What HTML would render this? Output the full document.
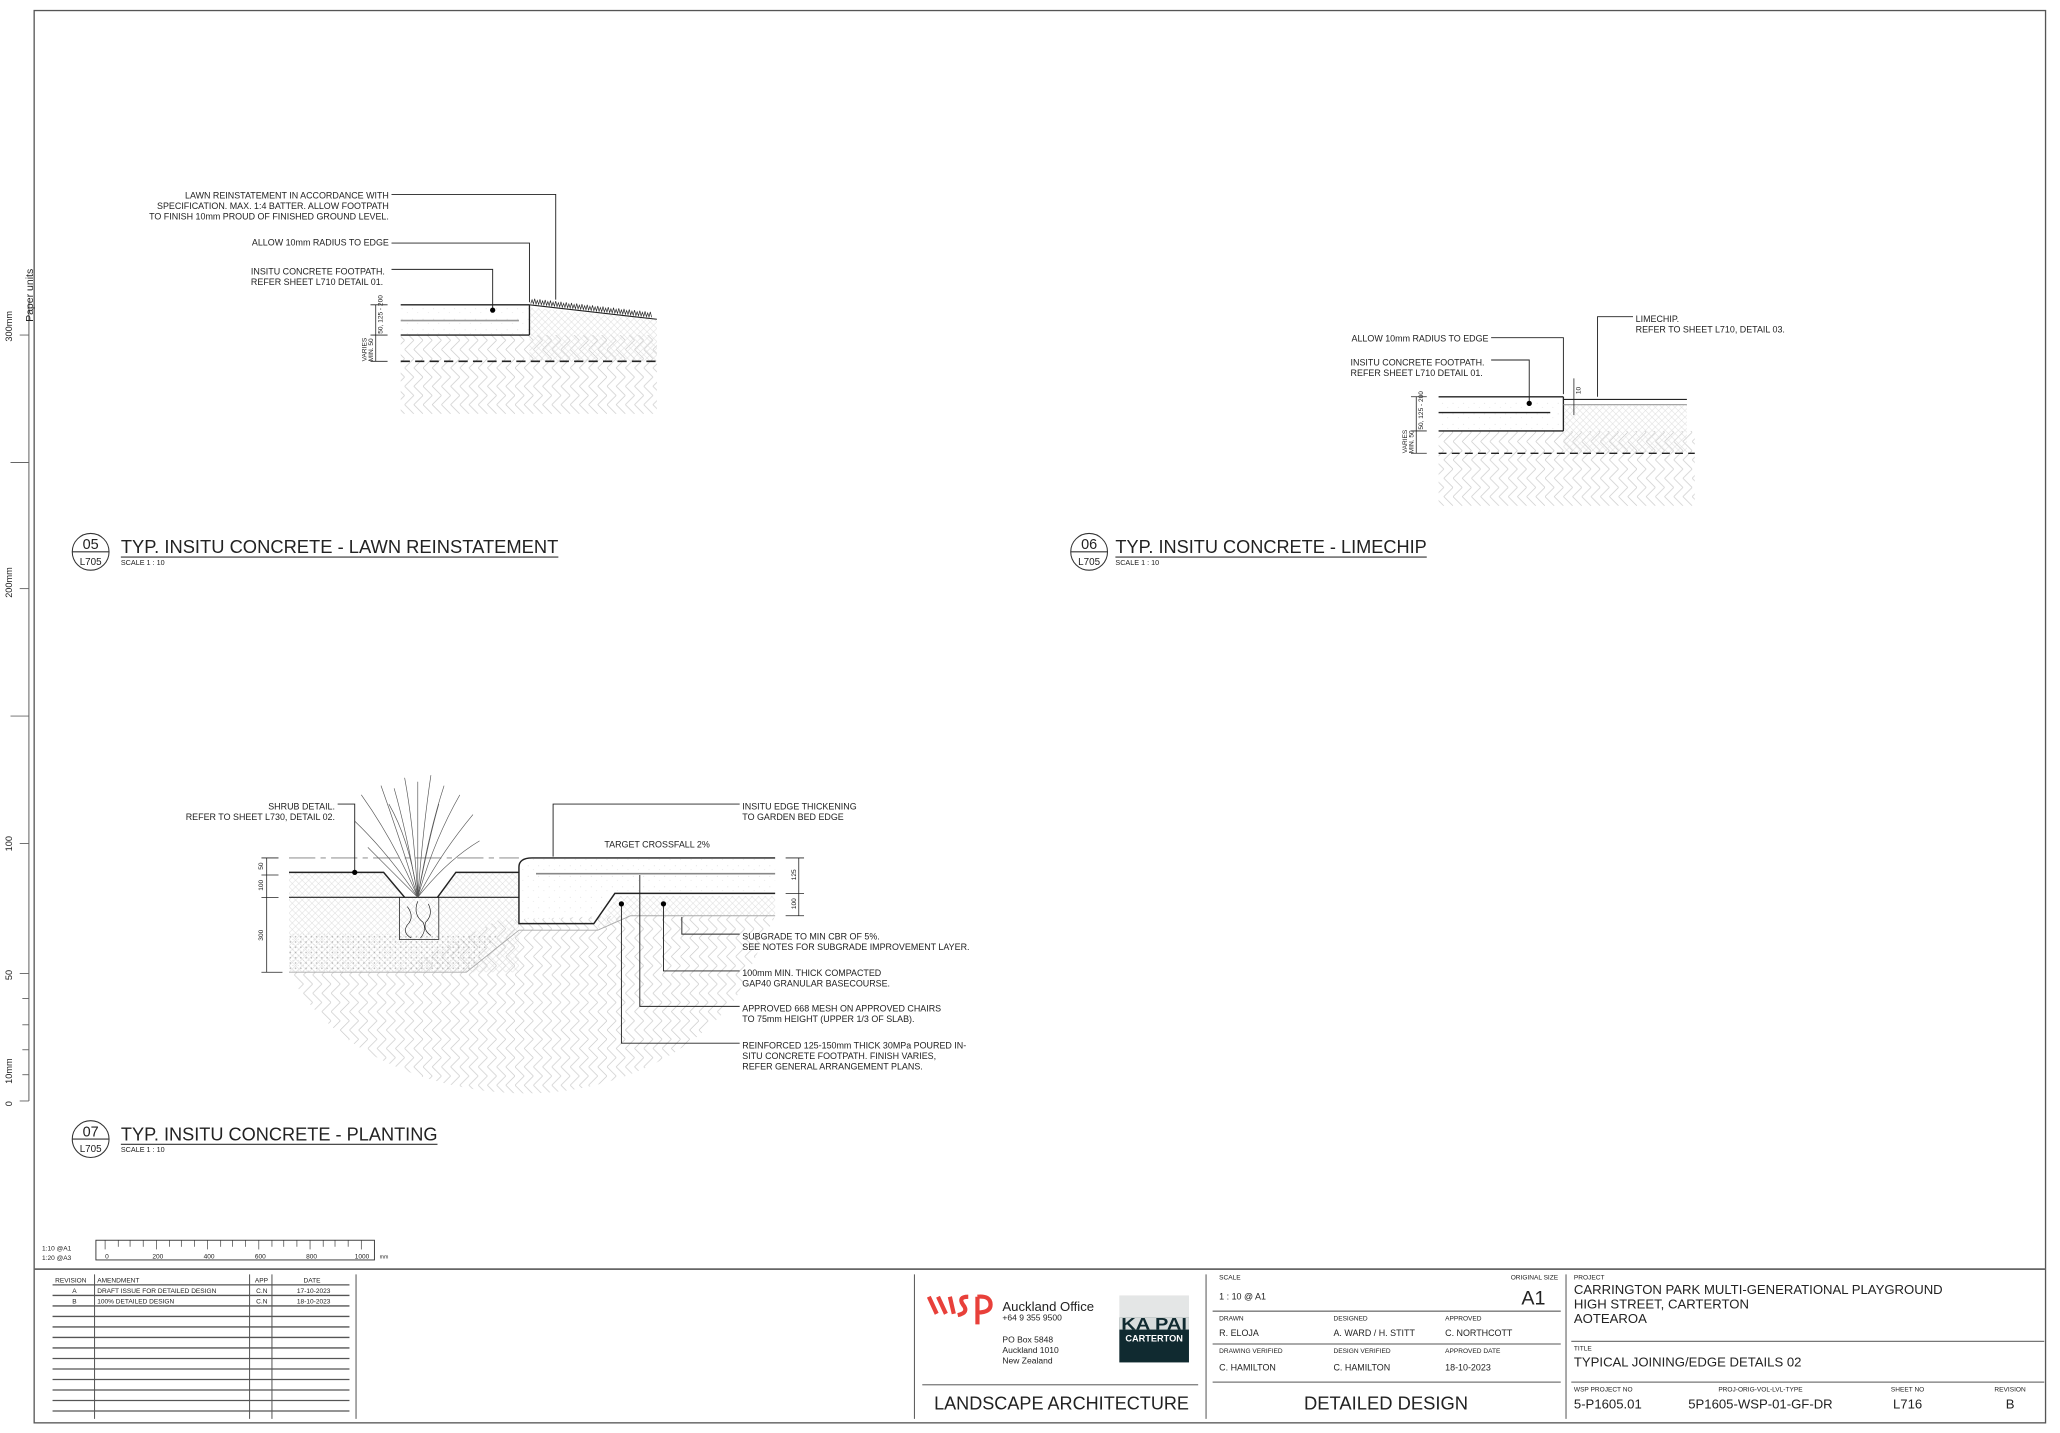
<!DOCTYPE html>
<html><head><meta charset="utf-8"><style>
html,body{margin:0;padding:0;background:#fff;}
svg{display:block;}
text{font-family:"Liberation Sans",Arial,sans-serif;fill:#222;}
</style></head><body>
<svg width="2060" height="1433" viewBox="0 0 1568 1090.7" xmlns="http://www.w3.org/2000/svg">
<defs>
<pattern id="hb" width="14" height="14" patternUnits="userSpaceOnUse">
<path d="M0 14 L7 7 M7 14 L14 7 M0 0 L7 7 M7 0 L14 7" stroke="#c8c8c8" stroke-width="0.5" fill="none"/>
</pattern>
<pattern id="fine" width="5" height="5" patternUnits="userSpaceOnUse">
<path d="M0 5 L5 0 M0 0 L5 5" stroke="#ddd" stroke-width="0.4"/>
</pattern>
<pattern id="dots" width="4" height="4" patternUnits="userSpaceOnUse">
<circle cx="1" cy="1" r="0.6" fill="#999"/><circle cx="3" cy="3" r="0.4" fill="#bbb"/>
</pattern>
<pattern id="conc" width="8" height="8" patternUnits="userSpaceOnUse">
<circle cx="2" cy="3" r="0.3" fill="#bbb"/><circle cx="6" cy="6" r="0.3" fill="#ccc"/>
</pattern>
</defs>

<rect x="26" y="8" width="1531" height="1075" fill="none" stroke="#555" stroke-width="1"/>

<!-- left ruler -->
<line x1="22" y1="230" x2="22" y2="838" stroke="#666" stroke-width="0.8"/>
<g stroke="#666" stroke-width="0.7">
<line x1="15" y1="255" x2="22" y2="255"/><line x1="8" y1="352" x2="22" y2="352"/>
<line x1="15" y1="448" x2="22" y2="448"/><line x1="8" y1="545" x2="22" y2="545"/>
<line x1="15" y1="642" x2="22" y2="642"/><line x1="15" y1="741" x2="22" y2="741"/>
<line x1="17" y1="760" x2="22" y2="760"/><line x1="17" y1="780" x2="22" y2="780"/>
<line x1="17" y1="799" x2="22" y2="799"/><line x1="17" y1="818" x2="22" y2="818"/>
<line x1="15" y1="838" x2="22" y2="838"/>
</g>
<g font-size="7">
<text transform="translate(9,260) rotate(-90)">300mm</text>
<text transform="translate(9,455) rotate(-90)">200mm</text>
<text transform="translate(9,648) rotate(-90)">100</text>
<text transform="translate(9,746) rotate(-90)">50</text>
<text transform="translate(9,825) rotate(-90)">10mm</text>
<text transform="translate(9,842) rotate(-90)">0</text>
<text transform="translate(25,245) rotate(-90)" font-size="8">Paper units</text>
</g>

<!-- ===== DETAIL 05 ===== -->
<rect x="305" y="255" width="195" height="60" fill="url(#hb)"/>
<path d="M403 234 L500 243 L500 275 L403 275Z" fill="url(#fine)"/>
<rect x="305" y="232" width="98" height="23" fill="url(#conc)"/>
<g stroke="#222" fill="none">
<line x1="305" y1="232" x2="403" y2="232" stroke-width="1"/>
<line x1="305" y1="255" x2="403" y2="255" stroke-width="1"/>
<line x1="403" y1="232" x2="403" y2="255" stroke-width="1"/>
<line x1="305" y1="244" x2="395" y2="244" stroke="#999" stroke-width="1.2"/>
<line x1="305" y1="275" x2="500" y2="275" stroke-width="1.3" stroke-dasharray="7,4"/>
<path d="M403 232 L500 243" stroke-width="0.8"/>
<path d="M404 231 l1 -3 l1 3 l1 -4 l1 4 l1 -3 l1 3 l1 -4 l1 4 l1 -3 l1 3 l1 -4 l1 4 l1 -3 l1 3 l1 -4 l1 4 l1 -3 l1 3 l1 -4 l1 4 l1 -3 l1 3 l1 -4 l1 4 l1 -3 l1 3 l1 -4 l1 4 l1 -3 l1 3 l1 -4 l1 4 l1 -3 l1 3 l1 -4 l1 4 l1 -3 l1 3 l1 -4 l1 4 l1 -3 l1 3 l1 -4 l1 4 l1 -3 l1 3 l1 -4 l1 4 l1 -3 l1 3 l1 -4 l1 4 l1 -3 l1 3 l1 -4 l1 4 l1 -3 l1 3 l1 -4 l1 4 l1 -3 l1 3 l1 -4 l1 4 l1 -3 l1 3 l1 -4 l1 4 l1 -3 l1 3 l1 -4 l1 4 l1 -3 l1 3 l1 -4 l1 4 l1 -3 l1 3 l1 -4 l1 4 l1 -3 l1 3 l1 -4 l1 4 l1 -3 l1 3 l1 -4 l1 4 l1 -3 l1 3 l1 -4 l1 4" stroke-width="0.5" transform="skewY(6.5) translate(0,-46)"/>
<polyline points="298,148 423,148 423,228" stroke-width="0.7"/>
<polyline points="298,185 403,185 403,230" stroke-width="0.7"/>
<polyline points="298,205 375,205 375,236" stroke-width="0.7"/>
<line x1="286" y1="232" x2="286" y2="275" stroke-width="0.6"/>
<line x1="282" y1="232" x2="295" y2="232" stroke-width="0.6"/>
<line x1="282" y1="255" x2="295" y2="255" stroke-width="0.6"/>
<line x1="282" y1="275" x2="295" y2="275" stroke-width="0.6"/>
</g>
<circle cx="375" cy="236" r="2" fill="#000"/>
<g font-size="6.8">
<text x="296" y="151" text-anchor="end">LAWN REINSTATEMENT IN ACCORDANCE WITH</text>
<text x="296" y="159" text-anchor="end">SPECIFICATION. MAX. 1:4 BATTER. ALLOW FOOTPATH</text>
<text x="296" y="167" text-anchor="end">TO FINISH 10mm PROUD OF FINISHED GROUND LEVEL.</text>
<text x="296" y="187" text-anchor="end">ALLOW 10mm RADIUS TO EDGE</text>
<text x="191" y="209">INSITU CONCRETE FOOTPATH.</text>
<text x="191" y="217">REFER SHEET L710 DETAIL 01.</text>
</g>
<g font-size="5">
<text transform="translate(291,254) rotate(-90)">50, 125 - 200</text>
<text transform="translate(284,275) rotate(-90)">MIN. 50</text>
<text transform="translate(279,275) rotate(-90)">VARIES</text>
</g>
<circle cx="69" cy="420" r="14" fill="none" stroke="#333" stroke-width="0.8"/>
<line x1="55" y1="420" x2="83" y2="420" stroke="#333" stroke-width="0.8"/>
<text x="69" y="418" font-size="11" text-anchor="middle">05</text>
<text x="69" y="430" font-size="7.5" text-anchor="middle">L705</text>
<text x="92" y="421" font-size="14" textLength="333" lengthAdjust="spacingAndGlyphs">TYP. INSITU CONCRETE - LAWN REINSTATEMENT</text>
<line x1="92" y1="424" x2="425" y2="424" stroke="#333" stroke-width="0.9"/>
<text x="92" y="430" font-size="5.5">SCALE  1 : 10</text>

<!-- ===== DETAIL 06 ===== -->
<rect x="1095" y="328" width="195" height="57" fill="url(#hb)"/>
<rect x="1190" y="308" width="94" height="37" fill="url(#fine)"/>
<rect x="1095" y="302" width="95" height="26" fill="url(#conc)"/>
<g stroke="#222" fill="none">
<line x1="1095" y1="302" x2="1190" y2="302" stroke-width="1"/>
<line x1="1095" y1="328" x2="1190" y2="328" stroke-width="1"/>
<line x1="1190" y1="302" x2="1190" y2="328" stroke-width="1"/>
<line x1="1095" y1="314" x2="1180" y2="314" stroke-width="1.1"/>
<line x1="1190" y1="304" x2="1284" y2="304" stroke-width="0.8"/>
<line x1="1190" y1="308" x2="1284" y2="308" stroke="#999" stroke-width="0.8"/>
<line x1="1095" y1="345" x2="1290" y2="345" stroke-width="1.1" stroke-dasharray="6,4"/>
<polyline points="1135,257 1190,257 1190,300" stroke-width="0.7"/>
<polyline points="1135,274 1164,274 1164,307" stroke-width="0.7"/>
<polyline points="1243,241 1216,241 1216,302" stroke-width="0.7"/>
<line x1="1198" y1="288" x2="1198" y2="316" stroke-width="0.6"/>
<line x1="1078" y1="302" x2="1078" y2="345" stroke-width="0.6"/>
<line x1="1074" y1="302" x2="1086" y2="302" stroke-width="0.6"/>
<line x1="1074" y1="328" x2="1086" y2="328" stroke-width="0.6"/>
<line x1="1074" y1="345" x2="1086" y2="345" stroke-width="0.6"/>
</g>
<circle cx="1164" cy="307" r="2" fill="#000"/>
<g font-size="6.8">
<text x="1133" y="260" text-anchor="end">ALLOW 10mm RADIUS TO EDGE</text>
<text x="1028" y="278">INSITU CONCRETE FOOTPATH.</text>
<text x="1028" y="286">REFER SHEET L710 DETAIL 01.</text>
<text x="1245" y="245">LIMECHIP.</text>
<text x="1245" y="253">REFER TO SHEET L710, DETAIL 03.</text>
</g>
<g font-size="5">
<text transform="translate(1083,327) rotate(-90)">50, 125 - 200</text>
<text transform="translate(1076,345) rotate(-90)">MIN. 50</text>
<text transform="translate(1071,345) rotate(-90)">VARIES</text>
<text transform="translate(1203,300) rotate(-90)">10</text>
</g>
<circle cx="829" cy="420" r="14" fill="none" stroke="#333" stroke-width="0.8"/>
<line x1="815" y1="420" x2="843" y2="420" stroke="#333" stroke-width="0.8"/>
<text x="829" y="418" font-size="11" text-anchor="middle">06</text>
<text x="829" y="430" font-size="7.5" text-anchor="middle">L705</text>
<text x="849" y="421" font-size="14" textLength="237" lengthAdjust="spacingAndGlyphs">TYP. INSITU CONCRETE - LIMECHIP</text>
<line x1="849" y1="424" x2="1086" y2="424" stroke="#333" stroke-width="0.9"/>
<text x="849" y="430" font-size="5.5">SCALE  1 : 10</text>

<!-- ===== DETAIL 07 ===== -->
<path d="M220 740 L300 740 L380 700 L470 697 L590 697 L560 760 C520 810 460 830 410 832 C330 835 250 800 220 740Z" fill="url(#hb)"/>
<rect x="220" y="683" width="175" height="57" fill="url(#fine)"/>
<path d="M220 710 L380 712 L355 740 L220 740Z" fill="url(#dots)" opacity="0.7"/>
<path d="M220 664 L292 664 L308 683 L220 683Z M333 683 L347 664 L395 664 L395 683Z" fill="url(#fine)"/>
<path d="M395 660 Q395 653 405 653 L590 653 L590 680 L468 680 L452 703 L395 703Z" fill="url(#conc)" />
<path d="M455 703 L470 682 L590 682 L590 697 L480 697 L455 708Z" fill="url(#fine)"/>
<g stroke="#222" fill="none">
<line x1="220" y1="653" x2="395" y2="653" stroke="#999" stroke-width="0.8" stroke-dasharray="20,4,4,4"/>
<polyline points="220,664 292,664 308,683" stroke-width="1.1"/>
<polyline points="333,683 347,664 395,664" stroke-width="1.1"/>
<line x1="220" y1="683" x2="395" y2="683" stroke-width="0.9"/>
<rect x="304" y="683" width="30" height="32" stroke-width="0.6"/>
<path d="M310 690 q6 8 0 14 q-4 6 3 10 M318 686 q-4 10 4 16 q3 6 -2 12 M326 688 q4 8 -2 14 q-2 6 4 10" stroke-width="0.5"/>
<path d="M395 660 Q395 653 405 653 L590 653 M395 660 L395 703 L452 703 L468 680 L590 680" stroke-width="1.1"/>
<line x1="408" y1="665" x2="590" y2="665" stroke="#888" stroke-width="1.2"/>
<polyline points="395,708 355,740 220,740" stroke="#aaa" stroke-width="0.7"/>
<polyline points="395,708 455,708 480,697 590,697" stroke="#aaa" stroke-width="0.7"/>
<line x1="203" y1="653" x2="203" y2="740" stroke-width="0.6"/>
<line x1="199" y1="653" x2="212" y2="653" stroke-width="0.6"/>
<line x1="199" y1="666" x2="212" y2="666" stroke-width="0.6"/>
<line x1="199" y1="683" x2="212" y2="683" stroke-width="0.6"/>
<line x1="199" y1="740" x2="215" y2="740" stroke-width="0.6"/>
<line x1="608" y1="653" x2="608" y2="697" stroke-width="0.6"/>
<line x1="598" y1="653" x2="612" y2="653" stroke-width="0.6"/>
<line x1="598" y1="680" x2="612" y2="680" stroke-width="0.6"/>
<line x1="598" y1="697" x2="612" y2="697" stroke-width="0.6"/>
<g stroke="#555" stroke-width="0.5">
<path d="M318 683 Q300 640 275 605"/><path d="M318 683 Q305 640 290 598"/>
<path d="M318 683 Q310 635 300 600"/><path d="M318 683 Q315 630 308 592"/>
<path d="M318 683 Q318 630 318 595"/><path d="M318 683 Q322 630 328 590"/>
<path d="M318 683 Q326 635 338 598"/><path d="M318 683 Q330 640 350 605"/>
<path d="M318 683 Q335 650 360 620"/><path d="M318 683 Q296 650 270 625"/>
<path d="M318 683 Q312 640 296 612"/><path d="M318 683 Q326 640 334 612"/>
<path d="M318 683 Q340 655 365 640"/><path d="M318 683 Q295 660 280 645"/>
</g>
<polyline points="257,612 270,612 270,664" stroke-width="0.7"/>
<polyline points="563,612 421,612 421,652" stroke-width="0.7"/>
<polyline points="563,711 519,711 519,698" stroke-width="0.7"/>
<polyline points="563,739 505,739 505,688" stroke-width="0.7"/>
<polyline points="563,766 487,766 487,666" stroke-width="0.7"/>
<polyline points="563,794 473,794 473,688" stroke-width="0.7"/>
</g>
<circle cx="270" cy="664" r="2" fill="#000"/>
<circle cx="505" cy="688" r="2" fill="#000"/>
<circle cx="473" cy="688" r="2" fill="#000"/>
<g font-size="6.8">
<text x="255" y="616" text-anchor="end">SHRUB DETAIL.</text>
<text x="255" y="624" text-anchor="end">REFER TO SHEET L730, DETAIL 02.</text>
<text x="565" y="616">INSITU EDGE THICKENING</text>
<text x="565" y="624">TO GARDEN BED EDGE</text>
<text x="460" y="645">TARGET CROSSFALL 2%</text>
<text x="565" y="715">SUBGRADE TO MIN CBR OF 5%.</text>
<text x="565" y="723">SEE NOTES FOR SUBGRADE IMPROVEMENT LAYER.</text>
<text x="565" y="743">100mm MIN. THICK COMPACTED</text>
<text x="565" y="751">GAP40 GRANULAR BASECOURSE.</text>
<text x="565" y="770">APPROVED 668 MESH ON APPROVED CHAIRS</text>
<text x="565" y="778">TO 75mm HEIGHT (UPPER 1/3 OF SLAB).</text>
<text x="565" y="798">REINFORCED 125-150mm THICK 30MPa POURED IN-</text>
<text x="565" y="806">SITU CONCRETE FOOTPATH. FINISH VARIES,</text>
<text x="565" y="814">REFER GENERAL ARRANGEMENT PLANS.</text>
</g>
<g font-size="5">
<text transform="translate(200,662) rotate(-90)">50</text>
<text transform="translate(200,678) rotate(-90)">100</text>
<text transform="translate(200,716) rotate(-90)">300</text>
<text transform="translate(606,670) rotate(-90)">125</text>
<text transform="translate(606,692) rotate(-90)">100</text>
</g>
<circle cx="69" cy="867" r="14" fill="none" stroke="#333" stroke-width="0.8"/>
<line x1="55" y1="867" x2="83" y2="867" stroke="#333" stroke-width="0.8"/>
<text x="69" y="865" font-size="11" text-anchor="middle">07</text>
<text x="69" y="877" font-size="7.5" text-anchor="middle">L705</text>
<text x="92" y="868" font-size="14" textLength="241" lengthAdjust="spacingAndGlyphs">TYP. INSITU CONCRETE - PLANTING</text>
<line x1="92" y1="871" x2="333" y2="871" stroke="#333" stroke-width="0.9"/>
<text x="92" y="877" font-size="5.5">SCALE  1 : 10</text>

<!-- scale bar -->
<rect x="73" y="944" width="212" height="15" fill="none" stroke="#333" stroke-width="0.7"/>
<g stroke="#333" stroke-width="0.5">
<line x1="80" y1="944" x2="80" y2="951"/><line x1="90" y1="944" x2="90" y2="949"/>
<line x1="99" y1="944" x2="99" y2="949"/><line x1="109" y1="944" x2="109" y2="949"/>
<line x1="119" y1="944" x2="119" y2="951"/><line x1="129" y1="944" x2="129" y2="949"/>
<line x1="138" y1="944" x2="138" y2="949"/><line x1="148" y1="944" x2="148" y2="949"/>
<line x1="158" y1="944" x2="158" y2="951"/><line x1="168" y1="944" x2="168" y2="949"/>
<line x1="177" y1="944" x2="177" y2="949"/><line x1="187" y1="944" x2="187" y2="949"/>
<line x1="197" y1="944" x2="197" y2="951"/><line x1="207" y1="944" x2="207" y2="949"/>
<line x1="216" y1="944" x2="216" y2="949"/><line x1="226" y1="944" x2="226" y2="949"/>
<line x1="236" y1="944" x2="236" y2="951"/><line x1="246" y1="944" x2="246" y2="949"/>
<line x1="255" y1="944" x2="255" y2="949"/><line x1="265" y1="944" x2="265" y2="949"/>
<line x1="275" y1="944" x2="275" y2="951"/>
</g>
<g font-size="5">
<text x="32" y="952">1:10    @A1</text><text x="32" y="959">1:20    @A3</text>
<text x="80" y="958">0</text><text x="116" y="958">200</text><text x="155" y="958">400</text>
<text x="194" y="958">600</text><text x="233" y="958">800</text><text x="270" y="958">1000</text>
<text x="289" y="958" font-size="4">mm</text>
</g>

<!-- ===== TITLE BLOCK ===== -->
<line x1="26" y1="966" x2="1557" y2="966" stroke="#666" stroke-width="1.3"/>
<g stroke="#444" stroke-width="0.7">
<line x1="271" y1="970" x2="271" y2="1080"/>
<line x1="696" y1="970" x2="696" y2="1080"/>
<line x1="918" y1="970" x2="918" y2="1080"/>
<line x1="1192" y1="970" x2="1192" y2="1080"/>
<line x1="72" y1="970" x2="72" y2="1080"/>
<line x1="190" y1="970" x2="190" y2="1080"/>
<line x1="207" y1="970" x2="207" y2="1080"/>
</g>
<g stroke="#555" stroke-width="1">
<line x1="40" y1="978" x2="266" y2="978"/><line x1="40" y1="986" x2="266" y2="986"/>
<line x1="40" y1="994" x2="266" y2="994"/><line x1="40" y1="1002" x2="266" y2="1002"/>
<line x1="40" y1="1010" x2="266" y2="1010"/><line x1="40" y1="1018" x2="266" y2="1018"/>
<line x1="40" y1="1026" x2="266" y2="1026"/><line x1="40" y1="1034" x2="266" y2="1034"/>
<line x1="40" y1="1042" x2="266" y2="1042"/><line x1="40" y1="1050" x2="266" y2="1050"/>
<line x1="40" y1="1058" x2="266" y2="1058"/><line x1="40" y1="1066" x2="266" y2="1066"/>
<line x1="40" y1="1074" x2="266" y2="1074"/>
</g>
<g font-size="5">
<text x="42" y="976">REVISION</text><text x="74" y="976">AMENDMENT</text>
<text x="194" y="976">APP</text><text x="231" y="976">DATE</text>
<text x="55" y="984">A</text><text x="74" y="984">DRAFT ISSUE FOR DETAILED DESIGN</text>
<text x="195" y="984">C.N</text><text x="226" y="984">17-10-2023</text>
<text x="55" y="992">B</text><text x="74" y="992">100% DETAILED DESIGN</text>
<text x="195" y="992">C.N</text><text x="226" y="992">18-10-2023</text>
</g>
<g stroke="#e8403a" stroke-width="3.2" fill="none" stroke-linecap="butt">
<path d="M707 987 L713 1000 M714 987 L720 1000 M723 987 L726 1000"/>
<path d="M737 987 q-8 0 -4 6 q5 6 -4 8"/>
<path d="M744 987 L744 1008 M744 987 q10 -1 10 6 q0 6 -10 6"/>
</g>
<text x="763" y="998" font-size="10">Auckland Office</text>
<text x="763" y="1005" font-size="6.5">+64 9 355 9500</text>
<text x="763" y="1022" font-size="6.5">PO Box 5848</text>
<text x="763" y="1030" font-size="6.5">Auckland 1010</text>
<text x="763" y="1038" font-size="6.5">New Zealand</text>
<rect x="852" y="986" width="53" height="51" fill="#e4e6e6"/>
<rect x="852" y="1003" width="53" height="34" fill="#102a30"/>
<rect x="852" y="1003" width="53" height="9" fill="#d8dcdc"/>
<text x="878.5" y="1012" font-size="13" font-weight="bold" text-anchor="middle" textLength="50" lengthAdjust="spacingAndGlyphs" style="fill:#102a30">KA PAI</text>
<text x="878.5" y="1021" font-size="7" font-weight="bold" text-anchor="middle" style="fill:#fff">CARTERTON</text>
<line x1="702" y1="1054" x2="912" y2="1054" stroke="#777" stroke-width="1"/>
<text x="711" y="1073" font-size="14" textLength="194" lengthAdjust="spacingAndGlyphs">LANDSCAPE ARCHITECTURE</text>
<g stroke="#777" stroke-width="1">
<line x1="923" y1="998" x2="1188" y2="998"/>
<line x1="923" y1="1023" x2="1188" y2="1023"/>
<line x1="923" y1="1052" x2="1188" y2="1052"/>
<line x1="1196" y1="1021" x2="1556" y2="1021"/>
<line x1="1196" y1="1052" x2="1556" y2="1052"/>
</g>
<g font-size="5">
<text x="928" y="974">SCALE</text><text x="1186" y="974" text-anchor="end">ORIGINAL SIZE</text>
<text x="928" y="1005">DRAWN</text><text x="1015" y="1005">DESIGNED</text><text x="1100" y="1005">APPROVED</text>
<text x="928" y="1030">DRAWING VERIFIED</text><text x="1015" y="1030">DESIGN VERIFIED</text><text x="1100" y="1030">APPROVED DATE</text>
<text x="1198" y="974">PROJECT</text>
<text x="1198" y="1028">TITLE</text>
<text x="1198" y="1059">WSP PROJECT NO</text><text x="1340" y="1059" text-anchor="middle">PROJ-ORIG-VOL-LVL-TYPE</text>
<text x="1452" y="1059" text-anchor="middle">SHEET NO</text><text x="1530" y="1059" text-anchor="middle">REVISION</text>
</g>
<g font-size="6.8">
<text x="928" y="989">1 : 10 @ A1</text>
<text x="928" y="1017">R. ELOJA</text><text x="1015" y="1017">A. WARD / H. STITT</text><text x="1100" y="1017">C. NORTHCOTT</text>
<text x="928" y="1043">C. HAMILTON</text><text x="1015" y="1043">C. HAMILTON</text><text x="1100" y="1043">18-10-2023</text>
</g>
<text x="1158" y="993" font-size="15">A1</text>
<text x="1055" y="1073" font-size="14" text-anchor="middle">DETAILED DESIGN</text>
<g font-size="10">
<text x="1198" y="985">CARRINGTON PARK MULTI-GENERATIONAL PLAYGROUND</text>
<text x="1198" y="996">HIGH STREET, CARTERTON</text>
<text x="1198" y="1007">AOTEAROA</text>
<text x="1198" y="1040">TYPICAL JOINING/EDGE DETAILS 02</text>
<text x="1198" y="1072">5-P1605.01</text>
<text x="1340" y="1072" text-anchor="middle">5P1605-WSP-01-GF-DR</text>
<text x="1452" y="1072" text-anchor="middle">L716</text>
<text x="1530" y="1072" text-anchor="middle">B</text>
</g>
</svg>
</body></html>
